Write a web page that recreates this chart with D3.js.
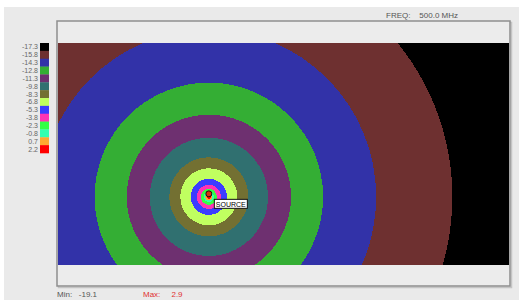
<!DOCTYPE html>
<meta charset="utf-8">
<style>
body { margin: 0; background: #fff; font-family: "Liberation Sans", Arial, sans-serif; }
.ring { shape-rendering: crispEdges; }
</style>
<body>
<script src="https://cdn.jsdelivr.net/npm/d3@7"></script>
<script>
// legend levels (dB), top to bottom
var levels = ["-17.3", "-15.8", "-14.3", "-12.8", "-11.3", "-9.8", "-8.3", "-6.8", "-5.3", "-3.8", "-2.3", "-0.8", "0.7", "2.2"];
var levelColors = ["#000000", "#6e3030", "#3232a8", "#34ae34", "#6e3070", "#307070", "#737032", "#c0ff60", "#3c3cff", "#ff34b4", "#34ff44", "#34ffb0", "#ffa830", "#ff0000"];
// outer radius (m) of each contour band around the source, same order (black is the background)
var bandRadius = [null, 48.6, 33.4, 22.8, 16.4, 11.8, 7.9, 5.7, 3.6, 2.4, 1.6, 1.0, 0.7, 0.4];
var source = {x: 30.1, y: 30.1, ringY: 30.7};
var freq = "500.0 MHz", minVal = "-19.1", maxVal = "2.9";

var W = 519, H = 300;
var svg = d3.select("body").append("svg").attr("width", W).attr("height", H);

svg.append("rect").attr("x", 4).attr("y", 7).attr("width", W - 4).attr("height", H - 7).attr("fill", "#eaeaea");

// frame
svg.append("rect").attr("x", 58.5).attr("y", 22.5).attr("width", 453).attr("height", 265)
  .attr("fill", "none").attr("stroke", "#c4c4c4").attr("stroke-width", 1.5);
svg.append("rect").attr("x", 57).attr("y", 21).attr("width", 453).attr("height", 265)
  .attr("fill", "#ececec").attr("stroke", "#8e8e8e").attr("stroke-width", 1.5);

var plot = {left: 58, top: 43, right: 509, bottom: 265};
var x = d3.scaleLinear().domain([0, 90]).range([plot.left, plot.right]);
var y = d3.scaleLinear().domain([0, 90 * (plot.bottom - plot.top) / (plot.right - plot.left)]).range([plot.top, plot.bottom]);
var k = x(1) - x(0);

svg.append("clipPath").attr("id", "clip").append("rect")
  .attr("x", plot.left).attr("y", plot.top)
  .attr("width", plot.right - plot.left).attr("height", plot.bottom - plot.top);

var field = svg.append("g").attr("clip-path", "url(#clip)");
field.append("rect").attr("x", plot.left).attr("y", plot.top)
  .attr("width", plot.right - plot.left).attr("height", plot.bottom - plot.top)
  .attr("fill", levelColors[0]);

field.selectAll("circle.ring")
  .data(bandRadius.map(function(r, i) { return {r: r, c: levelColors[i]}; }).filter(function(d) { return d.r; }))
  .enter().append("circle")
  .attr("class", "ring")
  .attr("cx", x(source.x))
  .attr("cy", y(source.ringY))
  .attr("r", function(d) { return d.r * k; })
  .attr("fill", function(d) { return d.c; });

// source marker
svg.append("circle").attr("cx", x(source.x)).attr("cy", y(source.y)).attr("r", 3)
  .attr("fill", "#e03010").attr("stroke", "#111").attr("stroke-width", 1);
svg.append("rect").attr("x", x(source.x) + 5.5).attr("y", y(source.y) + 5.5)
  .attr("width", 33).attr("height", 9).attr("fill", "#fff").attr("stroke", "#111").attr("stroke-width", 1);
svg.append("text").attr("x", x(source.x) + 22).attr("y", y(source.y) + 12.8)
  .attr("text-anchor", "middle").attr("font-size", "7px").attr("fill", "#000").text("SOURCE");

// legend
var ly = d3.scaleBand().domain(levels).range([43, 153]);
var legend = svg.selectAll("g.legend").data(levels).enter().append("g").attr("class", "legend");
legend.append("rect")
  .attr("x", 40).attr("y", function(d) { return ly(d); })
  .attr("width", 9).attr("height", ly.bandwidth() + 0.3)
  .attr("fill", function(d, i) { return levelColors[i]; });
legend.append("text")
  .attr("x", 38).attr("y", function(d) { return ly(d) + ly.bandwidth() / 2 + 2.5; })
  .attr("text-anchor", "end").attr("font-size", "7px").attr("fill", "#666")
  .text(function(d) { return d; });

svg.append("text").attr("x", 386).attr("y", 18).attr("font-size", "8px").attr("fill", "#555")
  .attr("xml:space", "preserve").text("FREQ:    " + freq);
svg.append("text").attr("x", 57).attr("y", 297).attr("font-size", "8px").attr("fill", "#555")
  .attr("xml:space", "preserve").text("Min:   " + minVal);
svg.append("text").attr("x", 143).attr("y", 297).attr("font-size", "8px").attr("fill", "#e03030")
  .attr("xml:space", "preserve").text("Max:     " + maxVal);
</script>
</body>
